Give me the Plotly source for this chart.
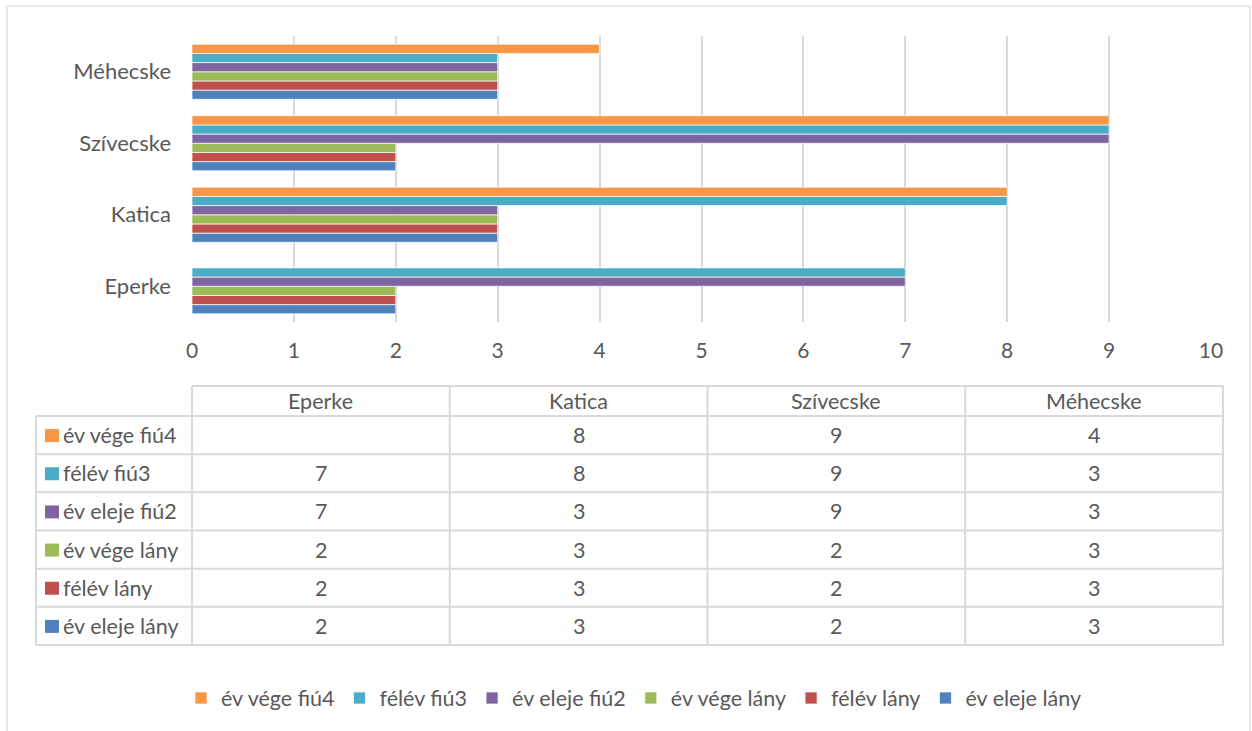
import plotly.graph_objects as go

# ---- data ----
categories = ["Eperke", "Katica", "Szívecske", "Méhecske"]
series_names = ["év eleje lány", "félév lány", "év vége lány",
                "év eleje fiú2", "félév fiú3", "év vége fiú4"]
ev_eleje_lany = [2, 3, 2, 3]
felev_lany = [2, 3, 2, 3]
ev_vege_lany = [2, 3, 2, 3]
ev_eleje_fiu2 = [7, 3, 9, 3]
felev_fiu3 = [7, 8, 9, 3]
ev_vege_fiu4 = [None, 8, 9, 4]
x_ticks = [0, 1, 2, 3, 4, 5, 6, 7, 8, 9, 10]

series_values = [ev_eleje_lany, felev_lany, ev_vege_lany,
                 ev_eleje_fiu2, felev_fiu3, ev_vege_fiu4]

# ---- styles ----
colors = ["#4F81BD", "#C0504D", "#9BBB59", "#8064A2", "#4BACC6", "#F79646"]
W, H = 1252, 731
FONT = "Lato"
TXT = "#595959"
GRID = "#D9D9D9"
FS = 21.5


def px(x):
    return x / W


def py(y):
    return 1 - y / H


fig = go.Figure()
for name, vals, col in zip(series_names, series_values, colors):
    fig.add_trace(go.Bar(
        y=categories, x=vals, name=name, orientation="h",
        marker=dict(color=col, line=dict(color="white", width=0.7)),
    ))

shapes = []
annotations = []

# chart border
shapes.append(dict(type="rect", xref="paper", yref="paper",
                   x0=px(7), x1=px(1250), y0=py(760), y1=py(6),
                   line=dict(color="#D9D9D9", width=1.2), layer="below"))

# ---- data table ----
tbl_left, tbl_first, tbl_right = 36, 192, 1223
tbl_top, hdr_bottom, tbl_bottom = 386, 416, 645
ncol = len(categories)
col_w = (tbl_right - tbl_first) / ncol
nrow = len(series_names)
row_h = (tbl_bottom - hdr_bottom) / nrow
line_style = dict(color=GRID, width=2)

shapes.append(dict(type="line", xref="paper", yref="paper",
                   x0=px(tbl_first), x1=px(tbl_right), y0=py(tbl_top), y1=py(tbl_top),
                   line=line_style))
for i in range(nrow + 1):
    yy = hdr_bottom + i * row_h
    shapes.append(dict(type="line", xref="paper", yref="paper",
                       x0=px(tbl_left), x1=px(tbl_right), y0=py(yy), y1=py(yy),
                       line=line_style))
shapes.append(dict(type="line", xref="paper", yref="paper",
                   x0=px(tbl_left), x1=px(tbl_left), y0=py(hdr_bottom), y1=py(tbl_bottom),
                   line=line_style))
for j in range(ncol + 1):
    xx = tbl_first + j * col_w
    shapes.append(dict(type="line", xref="paper", yref="paper",
                       x0=px(xx), x1=px(xx), y0=py(tbl_top), y1=py(tbl_bottom),
                       line=line_style))

for j, cat in enumerate(categories):
    annotations.append(dict(xref="paper", yref="paper",
                            x=px(tbl_first + (j + 0.5) * col_w), y=py((tbl_top + hdr_bottom) / 2),
                            text=cat, showarrow=False, xanchor="center", yanchor="middle",
                            font=dict(family=FONT, size=FS, color=TXT)))

for i in range(nrow):
    s = nrow - 1 - i
    yc = hdr_bottom + (i + 0.5) * row_h
    shapes.append(dict(type="rect", xref="paper", yref="paper",
                       x0=px(45), x1=px(59), y0=py(yc + 7), y1=py(yc - 6),
                       fillcolor=colors[s], line=dict(width=0)))
    annotations.append(dict(xref="paper", yref="paper", x=px(61), y=py(yc),
                            text=series_names[s], showarrow=False,
                            xanchor="left", yanchor="middle",
                            font=dict(family=FONT, size=FS, color=TXT)))
    for j in range(ncol):
        v = series_values[s][j]
        if v is None:
            continue
        annotations.append(dict(xref="paper", yref="paper",
                                x=px(tbl_first + (j + 0.5) * col_w), y=py(yc),
                                text=str(v), showarrow=False,
                                xanchor="center", yanchor="middle",
                                font=dict(family=FONT, size=FS, color=TXT)))

fig.update_layout(
    width=W, height=H,
    margin=dict(l=0, r=0, t=0, b=0, autoexpand=False),
    paper_bgcolor="white", plot_bgcolor="white",
    barmode="group", bargap=0.23, bargroupgap=0,
    font=dict(family=FONT, size=FS, color=TXT),
    xaxis=dict(domain=[px(192), px(1211)], range=[0, 10], tickvals=x_ticks,
               showgrid=True, gridcolor=GRID, gridwidth=1.5, zeroline=False,
               showline=False, ticks="", ticklabelstandoff=14, automargin=False,
               tickfont=dict(family=FONT, size=21, color=TXT), fixedrange=True),
    yaxis=dict(domain=[py(322), py(36)], categoryorder="array", categoryarray=categories,
               showgrid=False, zeroline=False, showline=False, ticks="",
               ticklabelstandoff=20, automargin=False,
               tickfont=dict(family=FONT, size=22, color=TXT), fixedrange=True),
    legend=dict(orientation="h", x=px(634), xanchor="center", y=py(698), yanchor="middle",
                traceorder="reversed", font=dict(family=FONT, size=FS, color=TXT),
                itemwidth=30, bgcolor="rgba(0,0,0,0)"),
    shapes=shapes, annotations=annotations,
)

fig.write_html("out.html", config={"displayModeBar": False},
               post_script="document.body.style.margin='0';document.body.style.overflow='hidden';")
